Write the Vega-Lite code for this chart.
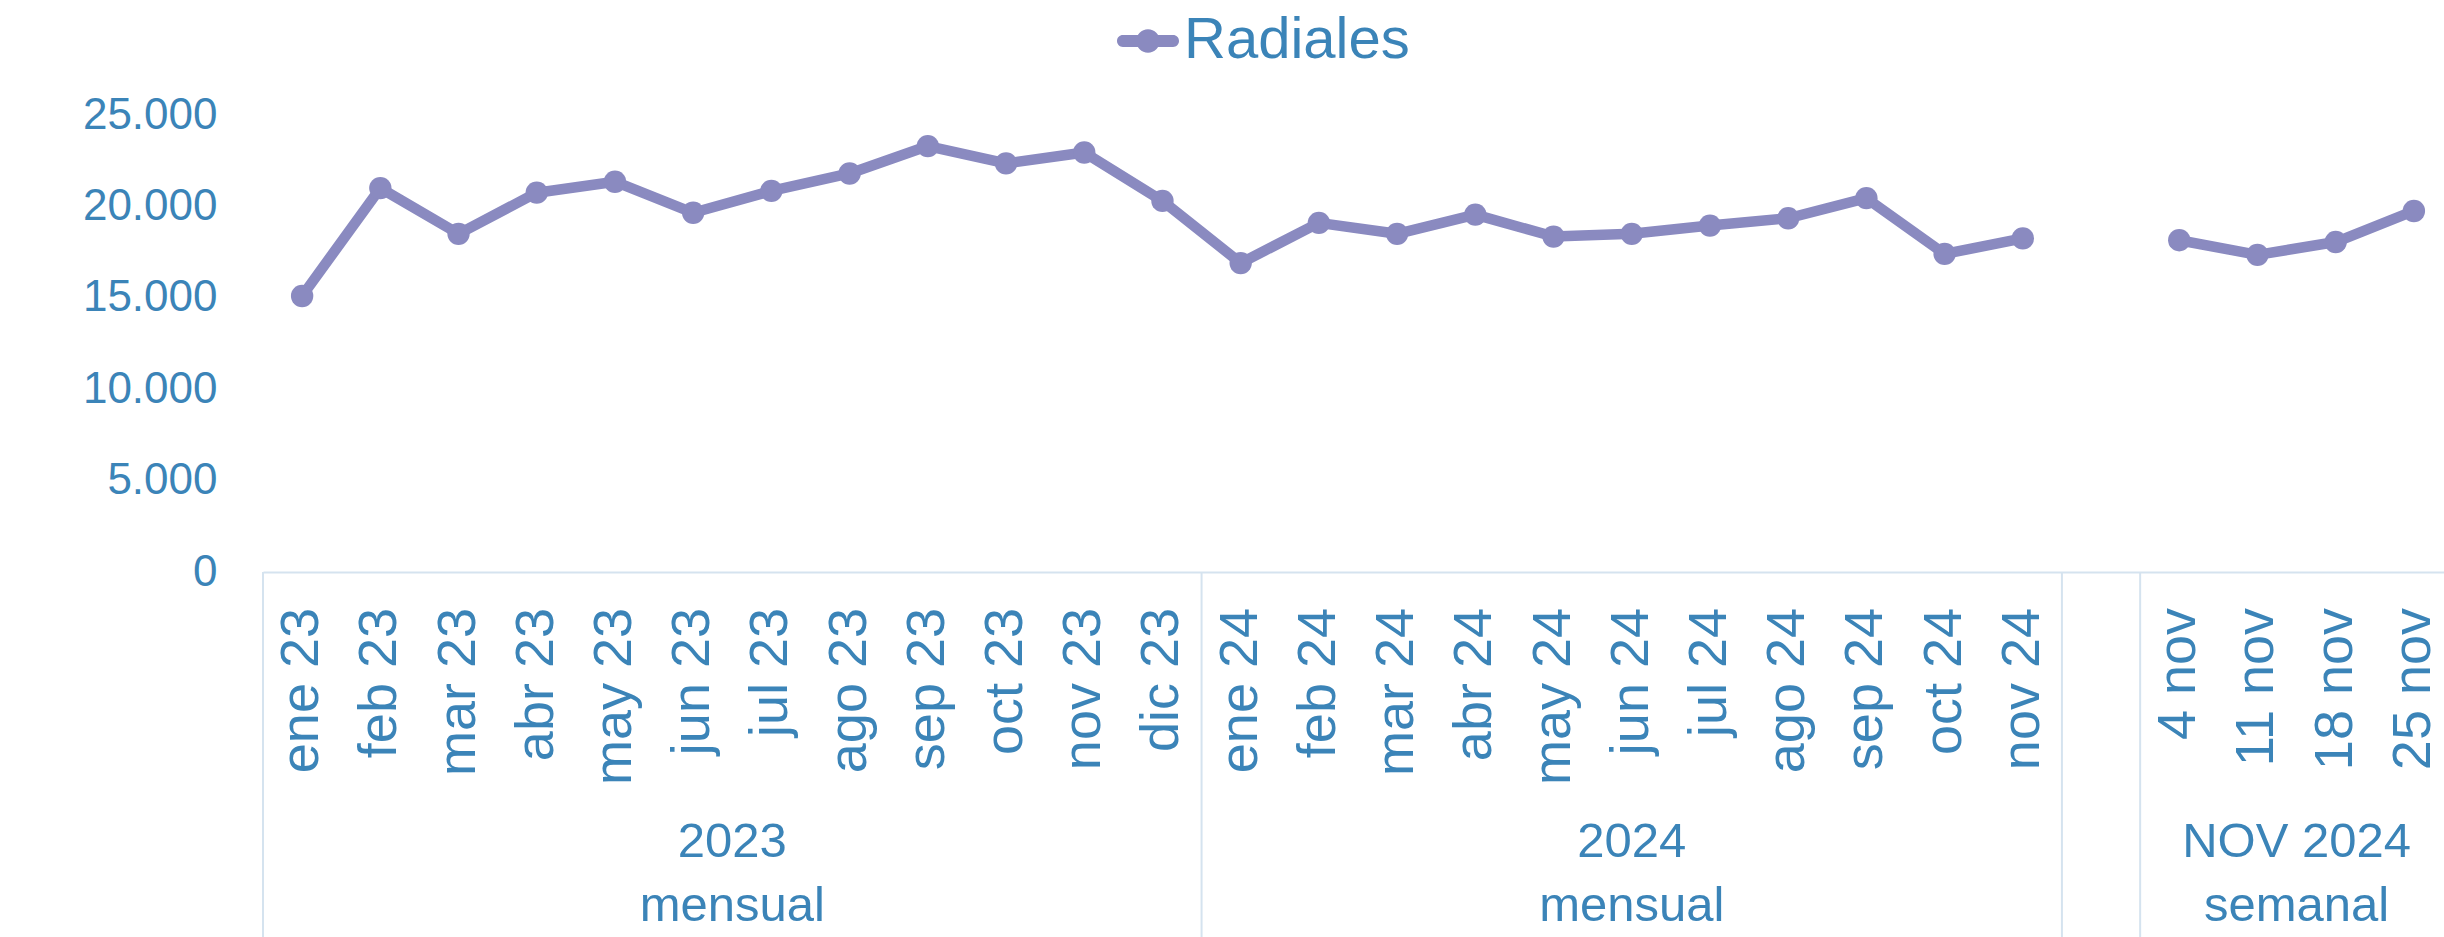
{
  "$schema": "https://vega.github.io/schema/vega-lite/v6.json",
  "autosize": {"type": "none"},
  "width": 2181,
  "height": 457,
  "padding": {"left": 263, "top": 115, "right": 0, "bottom": 365},
  "background": "white",
  "config": {
    "view": {"stroke": null},
    "font": "Liberation Sans",
    "locale": {"number": {"decimal": ",", "thousands": ".", "grouping": [3], "currency": ["", " €"]}},
    "axisX": {
      "title": null,
      "labels": false,
      "ticks": false,
      "tickSize": 0,
      "domainColor": "#D5E3EF",
      "domainWidth": 2,
      "grid": false
    },
    "axisY": {
      "title": null,
      "domain": false,
      "ticks": false,
      "tickSize": 0,
      "grid": false,
      "labelFontSize": 44,
      "labelColor": "#3B84B8",
      "labelPadding": 46,
      "labelLimit": 1000
    }
  },
  "datasets": {
    "serie": [
      {"cat": "ene 23", "val": 15100, "tramo": "mensual", "nombre": "Radiales"},
      {"cat": "feb 23", "val": 21000, "tramo": "mensual", "nombre": "Radiales"},
      {"cat": "mar 23", "val": 18500, "tramo": "mensual", "nombre": "Radiales"},
      {"cat": "abr 23", "val": 20750, "tramo": "mensual", "nombre": "Radiales"},
      {"cat": "may 23", "val": 21350, "tramo": "mensual", "nombre": "Radiales"},
      {"cat": "jun 23", "val": 19650, "tramo": "mensual", "nombre": "Radiales"},
      {"cat": "jul 23", "val": 20850, "tramo": "mensual", "nombre": "Radiales"},
      {"cat": "ago 23", "val": 21800, "tramo": "mensual", "nombre": "Radiales"},
      {"cat": "sep 23", "val": 23300, "tramo": "mensual", "nombre": "Radiales"},
      {"cat": "oct 23", "val": 22350, "tramo": "mensual", "nombre": "Radiales"},
      {"cat": "nov 23", "val": 22950, "tramo": "mensual", "nombre": "Radiales"},
      {"cat": "dic 23", "val": 20300, "tramo": "mensual", "nombre": "Radiales"},
      {"cat": "ene 24", "val": 16900, "tramo": "mensual", "nombre": "Radiales"},
      {"cat": "feb 24", "val": 19100, "tramo": "mensual", "nombre": "Radiales"},
      {"cat": "mar 24", "val": 18500, "tramo": "mensual", "nombre": "Radiales"},
      {"cat": "abr 24", "val": 19550, "tramo": "mensual", "nombre": "Radiales"},
      {"cat": "may 24", "val": 18350, "tramo": "mensual", "nombre": "Radiales"},
      {"cat": "jun 24", "val": 18500, "tramo": "mensual", "nombre": "Radiales"},
      {"cat": "jul 24", "val": 18950, "tramo": "mensual", "nombre": "Radiales"},
      {"cat": "ago 24", "val": 19350, "tramo": "mensual", "nombre": "Radiales"},
      {"cat": "sep 24", "val": 20450, "tramo": "mensual", "nombre": "Radiales"},
      {"cat": "oct 24", "val": 17400, "tramo": "mensual", "nombre": "Radiales"},
      {"cat": "nov 24", "val": 18250, "tramo": "mensual", "nombre": "Radiales"},
      {"cat": " ", "val": null, "tramo": "hueco", "nombre": "Radiales"},
      {"cat": "4 nov", "val": 18150, "tramo": "semanal", "nombre": "Radiales"},
      {"cat": "11 nov", "val": 17350, "tramo": "semanal", "nombre": "Radiales"},
      {"cat": "18 nov", "val": 18050, "tramo": "semanal", "nombre": "Radiales"},
      {"cat": "25 nov", "val": 19750, "tramo": "semanal", "nombre": "Radiales"}
    ],
    "grupos": [
      {"cat": "jul 23", "texto": "2023\nmensual"},
      {"cat": "jun 24", "texto": "2024\nmensual"},
      {"cat": "18 nov", "texto": "NOV 2024\nsemanal"}
    ],
    "separadores": [
      {"cat": "ene 23"},
      {"cat": "ene 24"},
      {"cat": " "},
      {"cat": "4 nov"}
    ]
  },
  "encoding": {
    "x": {
      "field": "cat",
      "type": "nominal",
      "scale": {
        "type": "band",
        "domain": ["ene 23", "feb 23", "mar 23", "abr 23", "may 23", "jun 23", "jul 23", "ago 23", "sep 23", "oct 23", "nov 23", "dic 23", "ene 24", "feb 24", "mar 24", "abr 24", "may 24", "jun 24", "jul 24", "ago 24", "sep 24", "oct 24", "nov 24", " ", "4 nov", "11 nov", "18 nov", "25 nov"],
        "range": [0, 2190],
        "paddingInner": 0,
        "paddingOuter": 0
      }
    }
  },
  "layer": [
    {
      "data": {"name": "serie"},
      "mark": {"type": "line", "color": "#8A8AC0", "strokeWidth": 10.5, "strokeJoin": "round", "strokeCap": "round"},
      "encoding": {
        "y": {
          "field": "val",
          "type": "quantitative",
          "scale": {"domain": [0, 25000], "nice": false},
          "axis": {
            "values": [0, 5000, 10000, 15000, 20000, 25000],
            "format": ",.0f"
          }
        },
        "detail": {"field": "tramo"}
      }
    },
    {
      "data": {"name": "serie"},
      "mark": {"type": "point", "filled": true, "size": 500, "opacity": 1},
      "encoding": {
        "y": {"field": "val", "type": "quantitative"},
        "color": {
          "field": "nombre",
          "type": "nominal",
          "scale": {"range": ["#8A8AC0"]},
          "legend": {
            "orient": "none",
            "legendX": 854,
            "legendY": -105,
            "title": null,
            "padding": 0,
            "labelFontSize": 58,
            "labelLimit": 1000,
            "labelColor": "#3B84B8",
            "labelOffset": 5,
            "symbolType": "M-0.81,-0.19H0.81A0.19,0.19 0 0,1 0.81,0.19H-0.81A0.19,0.19 0 0,1 -0.81,-0.19Z M0.38,0A0.38,0.38 0 1,1 -0.38,0A0.38,0.38 0 1,1 0.38,0Z",
            "symbolSize": 3844,
            "symbolStrokeWidth": 0,
            "symbolOpacity": 1,
            "symbolFillColor": "#8A8AC0"
          }
        }
      }
    },
    {
      "data": {"name": "serie"},
      "mark": {"type": "text", "fontSize": 54, "color": "#3B84B8", "angle": 270, "align": "right", "baseline": "middle", "dx": -36},
      "encoding": {
        "x": {"field": "cat", "type": "nominal", "bandPosition": 0.5},
        "y": {"datum": 0, "type": "quantitative"},
        "text": {"field": "cat"}
      }
    },
    {
      "data": {"name": "separadores"},
      "mark": {"type": "rule", "color": "#D5E3EF", "strokeWidth": 2},
      "encoding": {
        "x": {"field": "cat", "type": "nominal", "bandPosition": 0},
        "y": {"datum": 0, "type": "quantitative"},
        "y2": {"datum": -20000}
      }
    },
    {
      "data": {"name": "grupos"},
      "transform": [{"filter": "datum.cat !== 'jun 24'"}],
      "mark": {"type": "text", "fontSize": 49, "color": "#3B84B8", "align": "center", "baseline": "alphabetic", "lineBreak": "\n", "lineHeight": 64, "dy": 285},
      "encoding": {
        "x": {"field": "cat", "type": "nominal", "bandPosition": 0},
        "y": {"datum": 0, "type": "quantitative"},
        "text": {"field": "texto"}
      }
    },
    {
      "data": {"name": "grupos"},
      "transform": [{"filter": "datum.cat === 'jun 24'"}],
      "mark": {"type": "text", "fontSize": 49, "color": "#3B84B8", "align": "center", "baseline": "alphabetic", "lineBreak": "\n", "lineHeight": 64, "dy": 285},
      "encoding": {
        "x": {"field": "cat", "type": "nominal", "bandPosition": 0.5},
        "y": {"datum": 0, "type": "quantitative"},
        "text": {"field": "texto"}
      }
    }
  ]
}
